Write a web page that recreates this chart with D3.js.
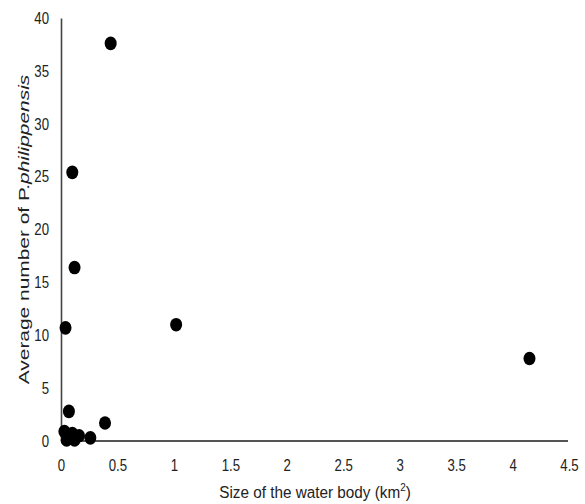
<!DOCTYPE html>
<html>
<head>
<meta charset="utf-8">
<script src="https://cdn.jsdelivr.net/npm/d3@7/dist/d3.min.js"></script>
<style>
  body { margin: 0; background: #fff; }
  svg { display: block; }
</style>
</head>
<body>
<svg id="chart" width="585" height="504"></svg>
<script>
// Data
const waterBodySize = [0.44, 0.10, 0.12, 0.04, 1.02, 4.15, 0.07, 0.39, 0.26, 0.03, 0.05, 0.10, 0.12, 0.16, 0.08];
const avgNumber     = [37.6, 25.4, 16.4, 10.7, 11.0, 7.8, 2.8, 1.7, 0.3, 0.9, 0.1, 0.7, 0.1, 0.5, 0.3];
const xTicks = [0, 0.5, 1, 1.5, 2, 2.5, 3, 3.5, 4, 4.5];
const yTicks = [0, 5, 10, 15, 20, 25, 30, 35, 40];

const svg = d3.select("#chart");
const mLeft = 61, mRight = 569, mTop = 18, mBottom = 441;

const x = d3.scaleLinear().domain([0, 4.5]).range([mLeft, mRight]);
const y = d3.scaleLinear().domain([0, 40]).range([mBottom, mTop]);

const tickFont = "'Liberation Sans', Arial, sans-serif";
const narrow = 0.8;

// X axis
const xAxis = svg.append("g")
  .attr("transform", `translate(0,${mBottom})`)
  .call(d3.axisBottom(x).tickValues(xTicks).tickSize(0).tickPadding(18)
        .tickFormat(d => d3.format("")(d)));
xAxis.select(".domain").attr("stroke", "#555").attr("stroke-width", 2.2)
  .attr("d", `M${mLeft},0H${mRight - 1}`);
xAxis.selectAll("text").attr("font-family", tickFont).attr("font-size", 16.5).attr("fill", "#222")
  .attr("transform", `scale(${narrow},1)`);

// Y axis
const yAxis = svg.append("g")
  .attr("transform", `translate(${mLeft},0)`)
  .call(d3.axisLeft(y).tickValues(yTicks).tickSize(0).tickPadding(12));
yAxis.select(".domain").attr("stroke", "#444").attr("stroke-width", 1.6);
yAxis.selectAll("text").attr("font-family", tickFont).attr("font-size", 16.5).attr("fill", "#222")
  .attr("x", -12 / narrow)
  .attr("transform", `scale(${narrow},1)`);

// Points
svg.append("g").selectAll("ellipse")
  .data(waterBodySize.map((v, i) => ({ xv: v, yv: avgNumber[i] })))
  .join("ellipse")
  .attr("cx", d => x(d.xv))
  .attr("cy", d => y(d.yv))
  .attr("rx", 6)
  .attr("ry", 6.8)
  .attr("fill", "#000");

// X title (centered on plot area)
const xt = svg.append("text")
  .attr("transform", `translate(${(mLeft + mRight) / 2},498) scale(0.9,1)`)
  .attr("text-anchor", "middle")
  .attr("font-family", "'Liberation Sans', Arial, sans-serif")
  .attr("font-size", 17).attr("fill", "#222");
xt.append("tspan").text("Size of the water body (km");
xt.append("tspan").attr("font-size", 11).attr("dy", -7).text("2");
xt.append("tspan").attr("dy", 7).text(")");

// Y title (centered on plot area)
const yt = svg.append("text")
  .attr("transform", `translate(29,${(mTop + mBottom) / 2}) rotate(-90) scale(1.23,0.9)`)
  .attr("text-anchor", "middle")
  .attr("font-family", "'Liberation Sans', Arial, sans-serif")
  .attr("font-size", 17).attr("fill", "#222");
yt.append("tspan").text("Average number of P.");
yt.append("tspan").attr("font-style", "italic").text("philippensis");
</script>
</body>
</html>
